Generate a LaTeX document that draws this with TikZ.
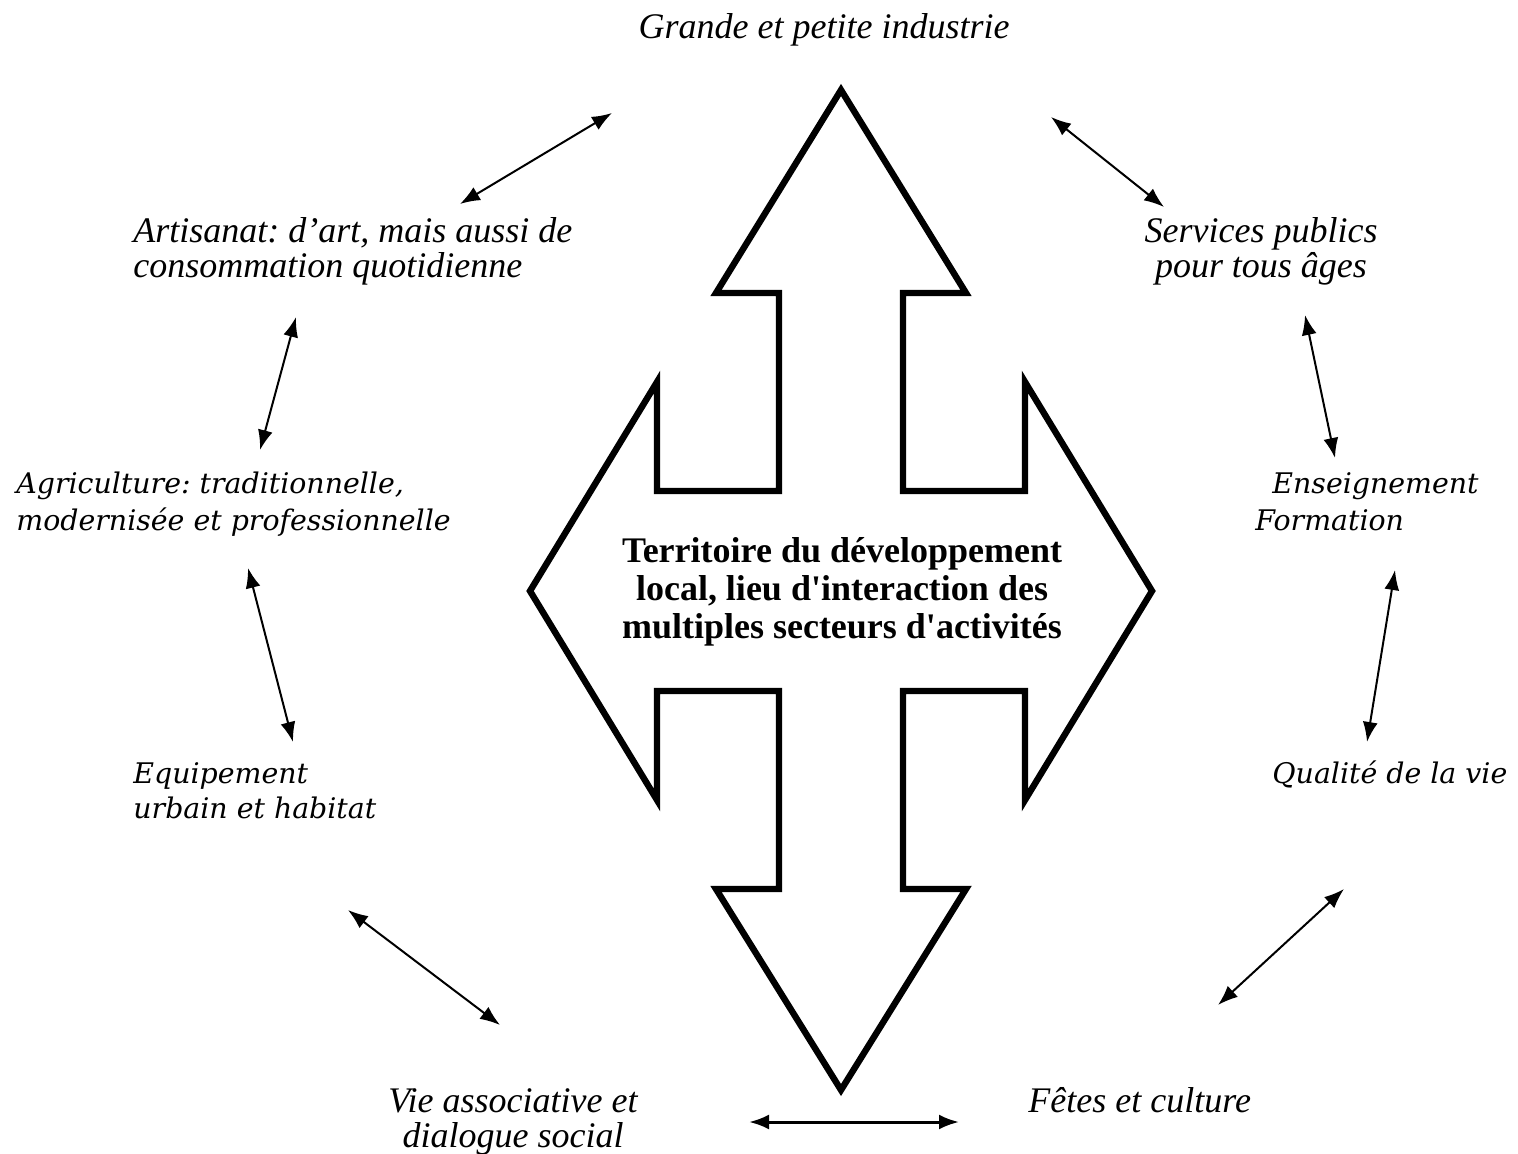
\documentclass[tikz,border=0pt]{standalone}
\usepackage{fontspec}
\setmainfont{Liberation Serif}
\newfontfamily\widefont{DejaVu Serif}
\usetikzlibrary{arrows.meta}
\frenchspacing
\begin{document}
\begin{tikzpicture}[x=0.5pt,y=-0.5pt,
  lab/.style={inner sep=0pt, font=\fontsize{18}{17.5}\selectfont\itshape},
  wlab/.style={inner sep=0pt, font=\widefont\fontsize{14.2}{18.5}\selectfont\itshape},
  ctext/.style={inner sep=0pt, align=center, font=\fontsize{18}{19}\selectfont\bfseries},
  link/.style={line width=1pt, {Latex[length=10pt,width=7.5pt]}-{Latex[length=10pt,width=7.5pt]}},
  bigarrow/.style={line width=3.2pt, line join=miter, draw=black, fill=white}]
\useasboundingbox (0,0) rectangle (1518,1154);

% four-way arrow
\draw[bigarrow] (841,90) -- (966,293) -- (903,293) -- (903,491) -- (1025,491) -- (1025,382)
  -- (1152,591) -- (1025,800) -- (1025,691) -- (903,691) -- (903,889) -- (966,889)
  -- (841,1090) -- (716,889) -- (779,889) -- (779,691) -- (657,691) -- (657,800)
  -- (530,591) -- (657,382) -- (657,491) -- (779,491) -- (779,293) -- (716,293) -- cycle;

\node[ctext, anchor=base] (centre) at (842,638) {Territoire du développement\\local, lieu d\textquotesingle interaction des\\multiples secteurs d\textquotesingle activités};

% labels
\node[lab, anchor=base] (ind) at (824,39) {Grande et petite industrie};
\node[lab, anchor=base west, align=left] (art) at (133,278) {Artisanat: d’art, mais aussi de\\consommation quotidienne};
\node[lab, anchor=base, align=center] (serv) at (1261,278) {Services publics\\pour tous âges};
\node[wlab, anchor=base west, align=left] (agr) at (16,530) {Agriculture: traditionnelle,\\modernisée et professionnelle};
\node[wlab, anchor=base west, align=left] (ens) at (1255,530) {\hspace*{8.5pt}Enseignement\\Formation};
\node[wlab, anchor=base west, align=left, font=\widefont\fontsize{14.2}{17.5}\selectfont\itshape] (equ) at (133,818) {Equipement\\urbain et habitat};
\node[wlab, anchor=base west] (qual) at (1272,783) {Qualité de la vie};
\node[lab, anchor=base, align=center] (vie) at (513,1147) {Vie associative et\\dialogue social};
\node[lab, anchor=base west] (fet) at (1028,1112) {Fêtes et culture};

% connector ends
\coordinate (a1) at (460,204); \coordinate (a2) at (612,113);
\coordinate (b1) at (1051,117); \coordinate (b2) at (1164,207);
\coordinate (c1) at (296,317); \coordinate (c2) at (260,450);
\coordinate (d1) at (1305,315); \coordinate (d2) at (1335,458);
\coordinate (e1) at (248,568); \coordinate (e2) at (293,742);
\coordinate (f1) at (1395,570); \coordinate (f2) at (1367,742);
\coordinate (g1) at (348,910); \coordinate (g2) at (500,1025);
\coordinate (h1) at (1344,889); \coordinate (h2) at (1218,1005);
\coordinate (i1) at (749,1122); \coordinate (i2) at (959,1122);

\draw[link] (a1) -- (a2);
\draw[link] (b1) -- (b2);
\draw[link] (c1) -- (c2);
\draw[link] (d1) -- (d2);
\draw[link] (e1) -- (e2);
\draw[link] (f1) -- (f2);
\draw[link] (g1) -- (g2);
\draw[link] (h1) -- (h2);
\draw[link, line width=1.5pt] (i1) -- (i2);
\end{tikzpicture}
\end{document}
